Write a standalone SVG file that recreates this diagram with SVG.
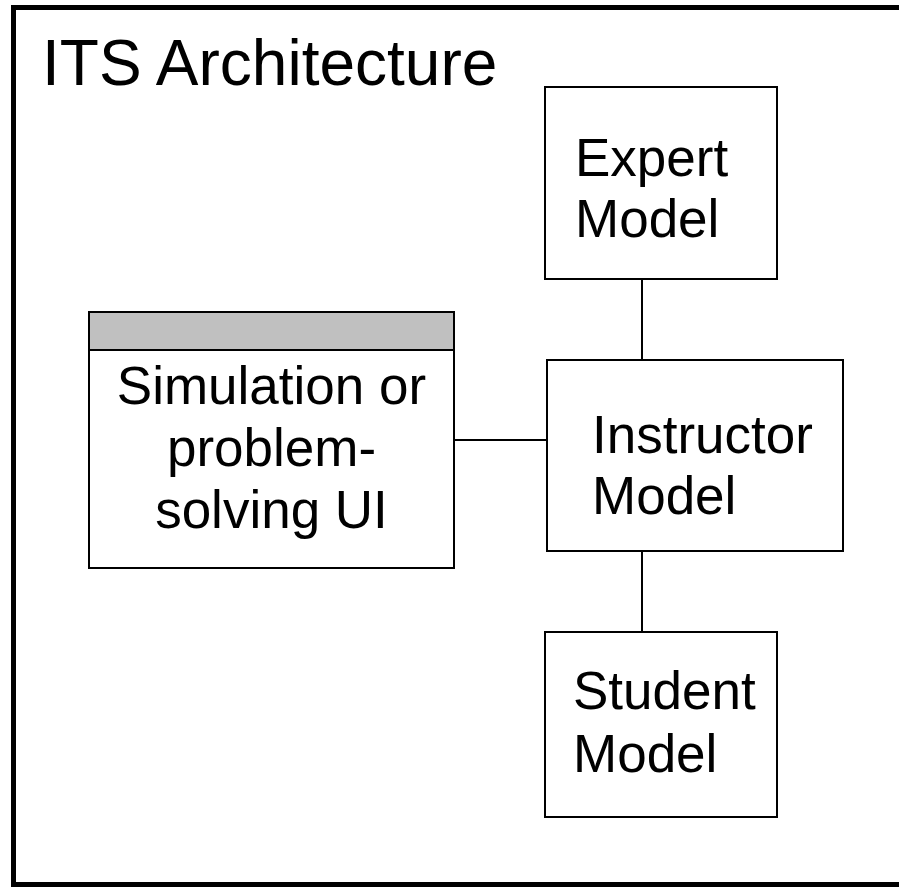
<svg xmlns="http://www.w3.org/2000/svg" width="899" height="888" viewBox="0 0 899 888">
  <style>
    .box { fill: #ffffff; stroke: #000000; stroke-width: 2; }
    .band { fill: #c0c0c0; stroke: #000000; stroke-width: 2; }
    .link { stroke: #000000; stroke-width: 2; fill: none; }
    .label { font-family: "Liberation Sans", Arial, sans-serif; font-size: 53px; fill: #000000; }
    .title { font-family: "Liberation Sans", Arial, sans-serif; font-size: 64px; fill: #000000; }
  </style>
  <rect x="0" y="0" width="899" height="888" fill="#ffffff"/>
  <!-- outer frame, open past the right edge -->
  <rect x="13.5" y="7.5" width="900" height="877" fill="none" stroke="#000000" stroke-width="5"/>
  <text class="title" x="42" y="85">ITS Architecture</text>

  <g id="connectors">
    <line class="link" x1="642" y1="279" x2="642" y2="360"/>
    <line class="link" x1="454" y1="440" x2="547" y2="440"/>
    <line class="link" x1="642" y1="551" x2="642" y2="632"/>
  </g>

  <g id="expert-model">
    <rect class="box" x="545" y="87" width="232" height="192"/>
    <text class="label" x="575" y="176">Expert</text>
    <text class="label" x="575" y="237">Model</text>
  </g>

  <g id="simulation-ui">
    <rect class="box" x="89" y="312" width="365" height="256"/>
    <rect class="band" x="89" y="312" width="365" height="38"/>
    <text class="label" x="271.5" y="404" text-anchor="middle">Simulation or</text>
    <text class="label" x="271.5" y="466" text-anchor="middle">problem-</text>
    <text class="label" x="271.5" y="528" text-anchor="middle">solving UI</text>
  </g>

  <g id="instructor-model">
    <rect class="box" x="547" y="360" width="296" height="191"/>
    <text class="label" x="592" y="453">Instructor</text>
    <text class="label" x="592" y="514">Model</text>
  </g>

  <g id="student-model">
    <rect class="box" x="545" y="632" width="232" height="185"/>
    <text class="label" x="573" y="709">Student</text>
    <text class="label" x="573" y="772">Model</text>
  </g>
</svg>
